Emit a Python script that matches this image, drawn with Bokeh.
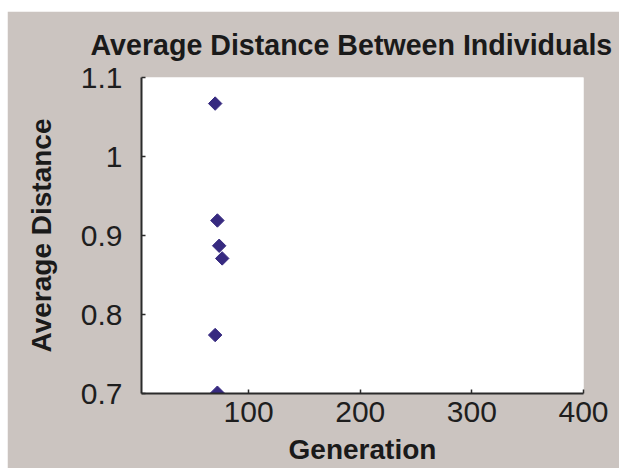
import math

from bokeh.embed import file_html
from bokeh.models import FixedTicker, Range1d
from bokeh.plotting import figure
from bokeh.resources import INLINE

# Average distance between individuals, by generation
generation = [70, 72, 73.6, 76.3, 70, 72]
avg_distance = [1.067, 0.919, 0.887, 0.871, 0.774, 0.701]

x_ticks = [100, 200, 300, 400]
y_ticks = [0.7, 0.8, 0.9, 1.0, 1.1]
y_tick_labels = ["0.7", "0.8", "0.9", "1", "1.1"]

BG = "#cbc4c0"
FONT = "Liberation Sans"

p = figure(
    width=612, height=457,
    x_range=Range1d(4, 400), y_range=Range1d(0.7, 1.1),
    output_backend="svg", toolbar_location=None,
    min_border_left=134, min_border_right=36,
    min_border_top=66, min_border_bottom=75,
    background_fill_color="white", border_fill_color=BG,
    outline_line_color=None,
    margin=(11, 0, 0, 7),
)

p.title.text = "Average Distance Between Individuals"
p.title.text_font = FONT
p.title.text_font_size = "28.6px"
p.title.text_font_style = "bold"
p.title.text_color = "#1a1a1a"
p.title.align = "left"
p.title.vertical_align = "top"
p.title.offset = -51
p.title.standoff = 30

p.grid.visible = False

for ax in (p.xaxis[0], p.yaxis[0]):
    ax.axis_line_color = "#2b2b2b"
    ax.axis_line_width = 2
    ax.major_tick_line_color = "#2b2b2b"
    ax.major_tick_line_width = 1.5
    ax.major_tick_in = 4
    ax.major_tick_out = 0
    ax.minor_tick_line_color = None
    ax.major_label_text_font = FONT
    ax.major_label_text_font_size = "30px"
    ax.major_label_text_color = "#1e1e1e"
    ax.axis_label_text_font = FONT
    ax.axis_label_text_font_size = "28px"
    ax.axis_label_text_font_style = "bold"
    ax.axis_label_text_color = "#1a1a1a"

p.xaxis.axis_label = "Generation"
p.xaxis.ticker = FixedTicker(ticks=x_ticks)
p.xaxis.major_label_standoff = 8
p.xaxis.axis_label_standoff = 9

p.yaxis.axis_label = "Average Distance"
p.yaxis.ticker = FixedTicker(ticks=y_ticks)
p.yaxis.major_label_overrides = dict(zip(y_ticks, y_tick_labels))
p.yaxis.major_label_standoff = 19
p.yaxis.axis_label_standoff = 21

p.scatter(generation, avg_distance, marker="square", angle=math.pi / 4,
          size=9.5, fill_color="#372a80", line_color="#372a80")

open("out.html", "w").write(file_html(p, INLINE))
